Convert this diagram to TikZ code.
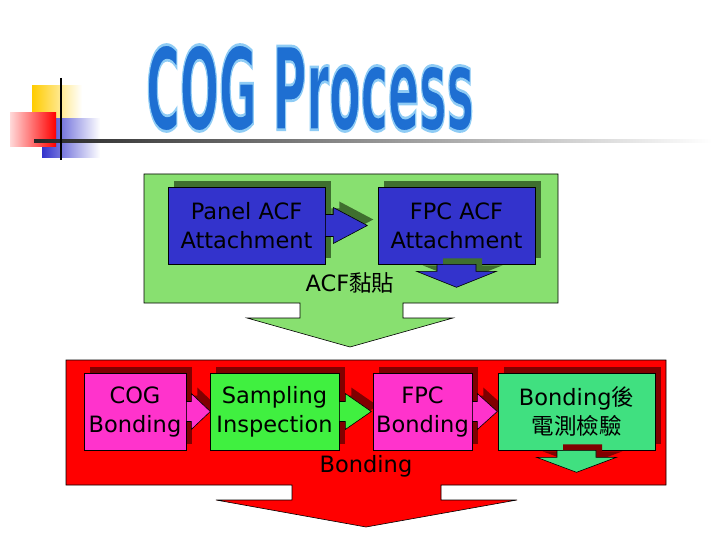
\documentclass[tikz,border=0pt]{standalone}
\usepackage{fontspec}
\usepackage{graphicx}
\setmainfont{DejaVu Sans}
\newfontfamily\cjk{Noto Sans CJK TC}
\usetikzlibrary{calc,shadows}
\definecolor{cogblue}{HTML}{3333CC}
\definecolor{cogpanel}{HTML}{88E070}
\definecolor{cogshade}{HTML}{3F6F2F}
\definecolor{cogred}{HTML}{FF0000}
\definecolor{cogdark}{HTML}{800000}
\definecolor{cogpink}{HTML}{FF33CC}
\definecolor{coglime}{HTML}{40F040}
\definecolor{cogmint}{HTML}{40E080}
\definecolor{cogtitle}{HTML}{1E6FD2}
\definecolor{cogyellow}{HTML}{FFCC00}
\definecolor{coglogo}{HTML}{3333CC}

\tikzset{
  stepbox/.style={rectangle, draw=black, line width=0.6pt, minimum height=77pt,
    align=center, inner sep=0pt, text=black, font=\fontsize{22.5}{29}\selectfont},
  greenshadow/.style={drop shadow={shadow xshift=6pt, shadow yshift=6pt,
    fill=cogshade, opacity=1}},
  redshadow/.style={drop shadow={shadow xshift=6pt, shadow yshift=6pt,
    fill=cogdark, opacity=1}},
  panel/.style={draw=black, line width=0.6pt},
  blockarrow/.style={draw=black, line width=0.6pt},
}

\begin{document}
\begin{tikzpicture}[x=1pt, y=-1pt]
\useasboundingbox (0,0) rectangle (720,540);
\fill[white] (0,0) rectangle (720,540);

% logo in the corner
\shade[left color=cogyellow, middle color=cogyellow, right color=white] (32,86) rectangle (82,119);
\shade[left color=coglogo, middle color=coglogo!85, right color=white] (42,119) rectangle (100,158);
\shade[left color=red!15, right color=cogred] (10,113) rectangle (56,147);
\shade[left color=black!85, right color=white] (34,140) rectangle (712,143);
\draw[line width=2pt] (61,78) -- (61,160);

% title
\node[text=cogtitle, font=\bfseries\fontsize{46}{46}\selectfont] (title) at (310,88)
  {\scalebox{1}[2.5]{\special{pdf:literal direct 2 Tr 1.1 w 0.56 0.8 0.96 RG}COG Process\special{pdf:literal direct 0 Tr}}};

% ACF panel
\filldraw[panel, fill=cogpanel] (144,174) -- (558,174) -- (558,303) -- (403,303) -- (403,318)
  -- (453,318) -- (350,347) -- (247,318) -- (300,318) -- (300,303) -- (144,303) -- cycle;

\node[stepbox, fill=cogblue, greenshadow, minimum width=157pt] (pacf) at (246.5,225.5) {Panel ACF\\Attachment};
\filldraw[blockarrow, fill=cogblue, greenshadow] ($(pacf.east)+(0,-11)$) -- ++(8,0) -- ++(0,-7)
  -- ++(34,18) -- ++(-34,18) -- ++(0,-7) -- ++(-8,0) -- cycle;
\node[stepbox, fill=cogblue, greenshadow, minimum width=157pt] (facf) at (456.5,225.5) {FPC ACF\\Attachment};
\filldraw[blockarrow, fill=cogblue, greenshadow] ($(facf.south)+(-19.5,0)$) -- ++(0,7) -- ++(-20.5,0)
  -- ++(40,16) -- ++(40,-16) -- ++(-20.5,0) -- ++(0,-7) -- cycle;
\node[font=\fontsize{22.5}{29}\selectfont] (acf) at (350,283) {ACF{\cjk 黏貼}};

% Bonding panel
\filldraw[panel, fill=cogred] (66,360) -- (666,360) -- (666,485) -- (441,485) -- (441,500)
  -- (517,500) -- (366,527) -- (216,500) -- (292,500) -- (292,485) -- (66,485) -- cycle;

\node[stepbox, fill=cogpink, redshadow, minimum width=102pt] (cogb) at (135,411.5) {COG\\Bonding};
\filldraw[blockarrow, fill=cogpink, redshadow] ($(cogb.east)+(0,-10)$) -- ++(5,0) -- ++(0,-8)
  -- ++(19,18) -- ++(-19,18) -- ++(0,-8) -- ++(-5,0) -- cycle;
\node[stepbox, fill=coglime, redshadow, minimum width=129pt] (samp) at (274.5,411.5) {Sampling\\Inspection};
\filldraw[blockarrow, fill=coglime, redshadow] ($(samp.east)+(0,-10)$) -- ++(6,0) -- ++(0,-8)
  -- ++(26,18) -- ++(-26,18) -- ++(0,-8) -- ++(-6,0) -- cycle;
\node[stepbox, fill=cogpink, redshadow, minimum width=99pt] (fpcb) at (422.5,411.5) {FPC\\Bonding};
\filldraw[blockarrow, fill=cogpink, redshadow] ($(fpcb.east)+(0,-10)$) -- ++(5,0) -- ++(0,-8)
  -- ++(20,18) -- ++(-20,18) -- ++(0,-8) -- ++(-5,0) -- cycle;
\node[stepbox, fill=cogmint, redshadow, minimum width=157pt] (post) at (576.5,411.5) {Bonding{\cjk 後}\\{\cjk 電測檢驗}};
\filldraw[blockarrow, fill=cogmint, redshadow] ($(post.south)+(-19.5,0)$) -- ++(0,7) -- ++(-20.5,0)
  -- ++(40,15) -- ++(40,-15) -- ++(-20.5,0) -- ++(0,-7) -- cycle;
\node[font=\fontsize{22.5}{29}\selectfont] (bond) at (366,466) {Bonding};
\end{tikzpicture}
\end{document}
